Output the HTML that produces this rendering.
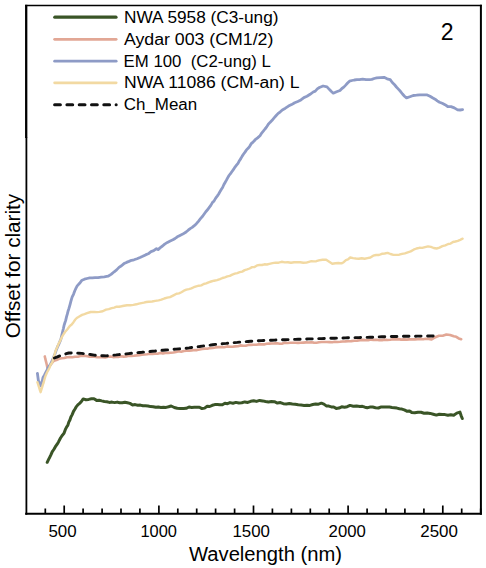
<!DOCTYPE html>
<html><head><meta charset="utf-8"><style>
html,body{margin:0;padding:0;background:#fff;}
svg{display:block;}
text{font-family:"Liberation Sans", sans-serif;fill:#000;}
</style></head><body>
<svg width="486" height="568" viewBox="0 0 486 568">
<rect width="486" height="568" fill="#fff"/>
<g fill="none" stroke-linejoin="round" stroke-linecap="round">
<path d="M47.2 462.3 L48.5 459.7 L49.8 457.1 L51.0 454.6 L52.3 451.6 L53.8 449.5 L55.4 446.7 L57.0 444.4 L58.5 441.9 L60.5 438.0 L62.6 434.9 L64.0 433.3 L65.3 429.7 L66.7 426.9 L67.8 425.4 L68.8 422.1 L69.9 420.0 L70.9 417.0 L72.2 414.6 L73.5 411.4 L74.7 409.5 L76.0 407.2 L77.8 404.9 L79.6 403.4 L81.4 401.5 L83.2 398.9 L85.9 399.7 L88.7 399.4 L91.4 398.8 L94.0 398.8 L96.6 400.4 L99.1 400.2 L101.7 400.9 L104.3 401.5 L106.8 401.7 L109.4 402.4 L112.0 402.1 L114.6 402.6 L117.2 402.1 L119.7 402.8 L122.3 402.7 L124.9 402.2 L127.4 402.7 L130.0 403.4 L132.6 405.0 L135.2 404.6 L137.7 405.2 L140.3 405.1 L142.9 405.7 L145.4 405.8 L148.0 406.0 L150.6 406.6 L153.2 406.7 L155.8 407.3 L158.3 407.1 L160.9 407.5 L163.5 407.3 L166.1 407.4 L168.6 406.8 L171.2 406.0 L174.3 407.5 L177.3 408.2 L180.4 408.6 L183.5 408.6 L186.2 408.3 L189.0 407.0 L191.7 407.4 L194.3 407.3 L196.8 407.2 L199.4 407.2 L202.0 408.6 L204.6 408.1 L207.2 406.2 L209.7 406.5 L212.3 405.3 L214.8 404.6 L217.4 404.5 L219.9 404.8 L222.4 404.7 L224.9 403.2 L227.5 403.7 L230.0 402.6 L233.0 403.2 L235.9 402.4 L238.9 403.0 L241.8 402.8 L244.8 401.9 L247.8 402.4 L250.7 401.3 L253.7 400.8 L256.6 401.4 L259.6 400.4 L262.6 400.9 L265.5 401.5 L268.5 402.0 L271.4 401.6 L274.4 401.7 L277.4 403.1 L280.4 402.6 L283.3 403.7 L286.3 403.9 L289.3 403.4 L292.3 403.9 L295.2 404.3 L298.2 404.8 L301.1 405.1 L304.1 405.4 L307.0 405.2 L309.9 405.4 L312.8 404.5 L315.6 404.1 L318.5 404.2 L321.4 403.2 L323.9 404.1 L326.3 405.9 L328.8 406.1 L331.3 406.9 L333.7 407.0 L336.2 408.4 L339.0 408.1 L341.7 406.8 L344.5 407.2 L347.2 406.7 L350.0 405.4 L353.3 406.2 L356.6 406.0 L359.9 406.4 L362.4 406.3 L364.9 407.2 L367.3 407.7 L369.8 407.1 L372.7 407.0 L375.5 407.7 L378.4 408.0 L381.3 406.9 L384.1 407.0 L387.0 407.0 L389.5 407.0 L392.0 407.4 L394.4 407.7 L396.9 408.1 L399.4 408.7 L401.9 409.1 L404.3 409.9 L406.8 411.2 L409.2 410.9 L411.7 412.4 L414.8 412.8 L417.9 412.3 L421.0 412.3 L424.1 413.2 L427.2 412.9 L430.2 413.4 L433.3 414.2 L436.4 415.1 L439.3 414.2 L442.2 414.6 L445.0 414.6 L447.9 415.3 L450.8 414.7 L453.7 415.3 L456.8 413.1 L459.9 412.1 L461.1 415.6 L462.3 418.5" stroke="#3A5527" stroke-width="3"/>
<path d="M44.8 356.4 L45.4 359.2 L46.1 361.9 L46.8 364.7 L47.4 367.8 L50.0 365.5 L52.0 363.0 L54.0 360.7 L56.5 360.0 L59.1 358.8 L61.6 358.2 L64.3 358.0 L67.0 357.2 L69.7 357.0 L72.4 357.2 L75.1 356.8 L77.8 356.7 L80.5 356.0 L83.2 355.6 L86.0 356.0 L88.8 356.6 L91.6 356.5 L94.4 356.8 L97.2 357.1 L100.0 357.3 L102.6 357.2 L105.2 357.5 L107.9 356.7 L110.5 356.5 L113.1 357.1 L115.7 356.9 L118.3 356.9 L120.9 356.3 L123.6 356.6 L126.2 356.5 L128.8 355.8 L131.4 356.0 L134.0 355.8 L136.7 355.4 L139.3 355.1 L141.9 354.7 L144.5 354.5 L147.1 354.2 L149.7 353.8 L152.4 354.0 L155.0 353.6 L157.6 353.7 L160.2 352.9 L162.9 353.4 L165.5 353.0 L168.1 352.9 L170.7 352.7 L173.4 352.5 L176.0 352.0 L178.6 351.3 L181.2 351.7 L183.9 351.0 L186.5 350.8 L189.1 350.8 L191.7 350.4 L194.4 350.0 L197.0 350.1 L199.6 349.5 L202.2 349.0 L204.8 348.6 L207.4 348.7 L210.1 348.1 L212.7 348.0 L215.3 347.4 L218.2 347.1 L221.2 347.1 L224.1 347.2 L227.1 346.4 L230.0 346.7 L232.6 346.7 L235.2 346.4 L237.9 346.2 L240.5 345.4 L243.1 345.7 L245.7 345.7 L248.3 344.9 L250.9 344.9 L253.6 344.7 L256.2 344.7 L258.8 344.4 L261.4 344.3 L264.0 344.4 L266.7 343.7 L269.3 343.6 L271.9 343.5 L274.5 343.4 L277.1 343.2 L279.7 343.8 L282.4 343.6 L285.0 342.8 L287.6 343.0 L290.2 342.8 L292.9 342.8 L295.5 342.7 L298.1 342.9 L300.7 342.8 L303.4 342.6 L306.0 342.4 L308.6 342.5 L311.2 342.3 L313.9 342.6 L316.5 342.7 L319.1 342.3 L321.7 342.0 L324.4 342.0 L327.0 342.0 L329.6 342.1 L332.2 342.2 L334.8 341.8 L337.4 342.0 L340.1 341.8 L342.7 341.5 L345.3 341.4 L348.2 341.2 L351.2 341.1 L354.1 340.7 L357.1 340.6 L360.0 340.2 L362.7 339.9 L365.5 340.1 L368.2 340.2 L371.0 339.6 L373.7 339.9 L376.5 339.8 L379.2 340.1 L382.0 340.1 L384.7 339.6 L387.4 340.0 L390.2 339.8 L392.9 339.3 L395.7 339.4 L398.4 339.1 L401.2 339.6 L403.9 339.4 L406.7 339.6 L409.4 339.4 L412.2 339.3 L414.9 339.4 L417.7 339.3 L420.5 338.9 L423.3 339.3 L426.1 338.8 L428.8 338.9 L431.6 339.4 L434.1 337.8 L436.5 336.7 L439.0 335.7 L442.7 335.7 L446.4 334.5 L450.1 335.0 L453.8 336.3 L456.3 336.8 L458.7 338.4 L461.2 339.2" stroke="#E2A795" stroke-width="2.6"/>
<path d="M37.4 373.3 L37.9 377.0 L38.4 380.8 L39.6 383.4 L40.8 385.9 L41.5 383.1 L42.3 380.7 L43.0 377.6 L44.3 375.5 L45.7 372.7 L47.0 370.2 L48.3 367.4 L49.6 365.7 L50.9 363.6 L52.2 360.6 L53.2 358.4 L54.1 356.1 L55.0 353.8 L56.0 350.8 L57.0 348.3 L58.0 345.9 L59.0 343.8 L60.0 341.4 L61.0 338.7 L61.6 336.1 L62.2 333.6 L62.8 331.0 L63.4 328.5 L64.0 325.7 L64.8 323.0 L65.7 320.4 L66.5 316.9 L67.3 314.2 L68.0 311.3 L68.7 309.2 L69.4 306.8 L70.1 304.3 L70.8 301.7 L71.5 299.2 L72.2 296.9 L73.5 294.3 L74.7 291.0 L76.0 288.2 L77.2 285.9 L79.6 283.3 L82.0 280.2 L84.5 279.2 L87.0 278.5 L89.7 277.9 L92.3 277.8 L95.0 277.6 L98.1 277.6 L101.2 277.1 L104.3 276.8 L108.0 276.2 L111.1 274.4 L114.2 271.8 L116.6 269.9 L119.0 267.4 L121.5 265.8 L124.0 263.6 L126.5 262.4 L129.0 261.4 L131.5 260.3 L134.0 259.8 L137.0 258.7 L140.0 257.5 L142.7 256.3 L145.5 254.9 L148.2 253.8 L151.0 251.6 L153.7 250.7 L156.5 248.6 L158.1 249.6 L160.3 247.6 L162.5 246.0 L164.7 244.1 L167.4 242.4 L170.2 241.0 L172.9 239.8 L175.1 238.5 L177.3 236.8 L179.5 235.7 L182.8 234.1 L186.1 232.0 L188.2 230.2 L190.2 228.6 L192.2 227.4 L194.3 225.7 L196.4 223.7 L198.4 221.3 L200.5 218.6 L202.6 216.3 L204.2 214.0 L205.8 211.7 L207.5 209.8 L209.1 207.7 L210.8 205.4 L212.4 202.6 L214.1 200.9 L215.7 198.1 L217.4 195.9 L218.7 194.0 L220.1 191.4 L221.4 189.3 L222.6 187.5 L223.8 184.8 L225.1 182.5 L226.3 180.4 L227.5 178.1 L229.0 175.5 L230.5 173.6 L232.0 171.5 L233.5 169.4 L235.0 167.1 L236.5 165.2 L238.0 163.4 L239.4 160.7 L240.8 158.6 L242.2 156.1 L243.6 154.0 L245.0 152.1 L246.6 149.7 L248.1 148.3 L249.7 146.3 L251.2 143.7 L252.8 142.4 L255.2 139.7 L257.6 137.9 L260.0 135.7 L261.7 133.1 L263.3 131.2 L265.0 129.0 L266.7 126.9 L268.3 124.2 L270.0 122.4 L272.1 120.3 L274.1 117.9 L276.2 115.5 L278.2 113.4 L280.3 111.8 L282.3 109.9 L285.4 108.2 L288.5 106.1 L291.6 104.6 L294.7 102.7 L297.8 101.5 L300.9 99.9 L303.9 97.6 L307.0 96.3 L310.1 94.3 L313.2 92.0 L315.3 91.1 L317.3 88.9 L319.4 87.5 L323.1 86.0 L327.0 86.9 L329.5 89.6 L331.4 91.5 L333.3 93.2 L336.6 91.8 L340.0 90.5 L341.9 88.5 L343.8 87.1 L345.7 85.1 L347.6 83.0 L349.5 81.2 L352.0 80.5 L354.4 80.0 L356.9 79.6 L359.4 79.6 L362.7 79.1 L366.0 79.6 L369.3 79.6 L371.8 79.4 L374.2 78.5 L376.7 77.9 L380.4 77.6 L384.0 77.3 L387.1 78.8 L390.2 79.7 L392.3 82.5 L394.3 84.4 L396.4 87.0 L398.4 89.1 L400.4 91.3 L402.5 94.0 L404.5 96.2 L406.5 97.9 L409.9 96.7 L413.2 95.5 L416.5 95.2 L419.8 94.8 L423.5 94.8 L427.2 94.9 L430.0 96.2 L432.9 98.0 L435.1 99.2 L437.3 100.9 L439.5 102.3 L442.2 103.3 L445.0 104.7 L447.7 106.5 L451.0 106.6 L454.3 107.9 L457.6 109.9 L460.1 110.0 L462.6 109.6" stroke="#8E9BC6" stroke-width="2.8"/>
<path d="M37.4 382.2 L38.2 384.7 L39.0 387.2 L39.8 389.8 L40.6 392.2 L41.3 389.9 L42.1 387.4 L42.8 384.9 L43.6 382.8 L44.3 380.0 L45.1 377.1 L45.8 375.2 L47.1 372.3 L48.4 369.9 L49.6 367.5 L50.9 364.2 L52.2 362.5 L53.0 359.9 L53.7 357.3 L54.5 354.9 L55.2 352.4 L56.0 349.7 L57.2 347.2 L58.5 343.9 L59.8 341.6 L61.0 338.9 L62.3 336.3 L63.7 334.0 L65.0 332.0 L67.4 329.3 L69.8 326.0 L71.7 324.5 L73.5 322.2 L75.3 319.5 L77.2 317.7 L79.7 316.3 L82.1 314.9 L84.5 314.1 L87.0 313.2 L90.7 312.0 L94.4 312.0 L96.9 312.1 L99.4 311.9 L102.7 311.3 L106.0 309.6 L108.8 309.1 L111.7 308.1 L114.2 307.6 L116.6 306.7 L119.1 306.7 L121.5 306.3 L124.0 305.8 L127.1 305.2 L130.2 305.3 L133.3 304.9 L136.4 304.3 L138.9 303.6 L141.4 303.1 L143.8 302.6 L146.3 302.0 L148.8 301.7 L152.1 301.5 L155.3 300.9 L158.6 300.4 L161.4 299.7 L164.3 298.5 L167.2 297.7 L170.0 297.1 L174.0 295.1 L176.5 293.8 L179.0 293.4 L181.4 292.2 L183.9 290.7 L186.4 289.7 L188.9 289.1 L191.4 288.4 L193.8 287.2 L196.3 286.3 L198.8 285.7 L201.3 285.4 L203.7 284.0 L206.2 283.4 L208.6 282.3 L211.1 281.5 L214.1 280.7 L217.0 280.1 L220.0 279.1 L222.5 278.0 L224.9 277.3 L227.4 276.4 L229.8 275.9 L232.3 274.6 L234.8 273.6 L237.3 273.1 L239.7 272.2 L242.2 271.6 L244.7 270.1 L247.2 269.4 L249.6 268.5 L252.1 267.1 L254.5 267.1 L257.0 265.4 L259.5 265.0 L262.0 265.0 L264.4 264.3 L266.9 264.5 L269.4 263.8 L272.5 263.1 L275.5 262.6 L278.6 262.7 L281.7 261.8 L284.8 262.4 L287.9 262.2 L291.0 262.8 L294.1 262.3 L297.2 262.2 L300.2 262.3 L303.3 262.8 L306.4 262.6 L308.9 261.9 L311.4 261.2 L313.8 261.4 L316.3 261.2 L318.8 260.4 L322.5 259.8 L326.2 259.8 L329.2 261.7 L332.3 263.7 L335.4 263.3 L338.4 263.0 L341.5 263.4 L343.7 262.2 L345.9 260.1 L348.0 259.4 L350.2 257.5 L353.1 258.1 L356.0 258.5 L358.8 258.8 L361.7 258.2 L364.6 258.7 L367.5 258.1 L370.4 257.5 L373.2 255.7 L376.1 255.0 L379.0 255.0 L381.9 253.8 L384.7 253.5 L387.6 252.9 L390.5 254.0 L393.4 254.9 L396.3 254.9 L399.2 254.7 L402.1 253.9 L404.9 253.3 L407.8 252.3 L410.7 251.4 L413.6 249.7 L416.5 248.5 L419.4 247.8 L422.2 247.9 L425.1 247.1 L428.0 246.4 L430.9 246.9 L433.7 248.0 L436.6 248.5 L439.5 247.6 L442.4 246.2 L445.3 245.3 L448.2 244.0 L450.6 243.6 L453.0 242.0 L455.4 241.5 L457.8 240.8 L460.2 239.8 L462.6 238.7" stroke="#F2D9A2" stroke-width="2.4"/>
<path d="M54.4 358.0 L56.8 357.1 L59.2 356.1 L61.6 355.2 L64.0 354.5 L66.4 353.7 L68.8 353.0 L72.4 353.0 L76.0 353.0 L78.9 353.2 L81.8 353.4 L84.7 353.8 L87.5 354.1 L90.4 354.5 L94.0 355.1 L97.6 355.6 L100.5 355.7 L103.4 355.8 L106.3 355.9 L108.8 355.6 L111.3 355.4 L113.8 355.1 L116.3 354.9 L118.8 354.6 L121.3 354.4 L123.8 354.1 L126.3 353.9 L128.8 353.6 L131.4 353.3 L134.0 353.1 L136.7 352.8 L139.3 352.5 L141.9 352.3 L144.5 352.0 L147.1 351.8 L149.7 351.5 L152.4 351.2 L155.0 351.0 L157.6 350.7 L160.2 350.5 L162.9 350.2 L165.5 350.0 L168.1 349.8 L170.7 349.6 L173.4 349.3 L176.0 349.1 L178.6 348.9 L181.2 348.7 L183.9 348.4 L186.5 348.2 L189.1 347.9 L191.7 347.5 L194.4 347.2 L197.0 346.8 L199.6 346.5 L202.2 346.1 L204.8 345.8 L207.4 345.4 L210.1 345.1 L212.7 344.7 L215.3 344.4 L218.0 344.1 L220.8 343.9 L223.5 343.6 L226.3 343.4 L229.0 343.1 L231.8 342.9 L234.5 342.6 L237.3 342.4 L240.0 342.1 L242.7 341.9 L245.4 341.7 L248.1 341.5 L250.7 341.3 L253.4 341.1 L256.1 340.9 L258.8 340.7 L261.4 340.6 L264.0 340.5 L266.7 340.4 L269.3 340.3 L271.9 340.2 L274.5 340.1 L277.1 340.0 L279.7 339.9 L282.4 339.8 L285.0 339.7 L287.6 339.6 L290.2 339.5 L292.9 339.4 L295.5 339.4 L298.1 339.3 L300.7 339.2 L303.4 339.1 L306.0 339.0 L308.6 338.9 L311.2 338.9 L313.9 338.8 L316.5 338.7 L319.1 338.6 L321.7 338.6 L324.4 338.5 L327.0 338.4 L329.6 338.3 L332.2 338.3 L334.8 338.2 L337.4 338.1 L340.1 338.0 L342.7 338.0 L345.3 337.9 L348.0 337.8 L350.8 337.8 L353.5 337.7 L356.3 337.6 L359.0 337.6 L361.8 337.5 L364.5 337.4 L367.3 337.4 L370.0 337.3 L372.9 337.2 L375.9 337.1 L378.8 336.9 L381.8 336.8 L384.7 336.7 L387.4 336.6 L390.2 336.6 L392.9 336.5 L395.7 336.5 L398.4 336.4 L401.2 336.4 L403.9 336.3 L406.7 336.3 L409.4 336.2 L412.1 336.2 L414.9 336.2 L417.6 336.1 L420.3 336.1 L423.1 336.1 L425.8 336.1 L428.5 336.0 L431.3 336.0 L434.0 336.0" stroke="#111" stroke-width="2.9" stroke-dasharray="5.6 6.5" stroke-linecap="round"/>
</g>
<g stroke="#000" fill="none">
<line x1="26.2" y1="4.8" x2="26.2" y2="138" stroke-width="2.3"/>
<line x1="26.4" y1="137.5" x2="26.4" y2="514.7" stroke-width="1.8"/>
<line x1="25.2" y1="513.7" x2="481.8" y2="513.7" stroke-width="2"/>
<line x1="25.2" y1="5.5" x2="481.8" y2="5.5" stroke-width="1.5"/>
<line x1="480.9" y1="4.8" x2="480.9" y2="514.7" stroke-width="2"/>
</g>
<g stroke="#000" stroke-width="1.7">
<line x1="45.3" y1="508.5" x2="45.3" y2="513" /><line x1="64.2" y1="505.5" x2="64.2" y2="513" /><line x1="83.1" y1="508.5" x2="83.1" y2="513" /><line x1="102.1" y1="508.5" x2="102.1" y2="513" /><line x1="121.0" y1="508.5" x2="121.0" y2="513" /><line x1="139.9" y1="508.5" x2="139.9" y2="513" /><line x1="158.9" y1="505.5" x2="158.9" y2="513" /><line x1="177.8" y1="508.5" x2="177.8" y2="513" /><line x1="196.7" y1="508.5" x2="196.7" y2="513" /><line x1="215.6" y1="508.5" x2="215.6" y2="513" /><line x1="234.6" y1="508.5" x2="234.6" y2="513" /><line x1="253.5" y1="505.5" x2="253.5" y2="513" /><line x1="272.4" y1="508.5" x2="272.4" y2="513" /><line x1="291.4" y1="508.5" x2="291.4" y2="513" /><line x1="310.3" y1="508.5" x2="310.3" y2="513" /><line x1="329.2" y1="508.5" x2="329.2" y2="513" /><line x1="348.1" y1="505.5" x2="348.1" y2="513" /><line x1="367.1" y1="508.5" x2="367.1" y2="513" /><line x1="386.0" y1="508.5" x2="386.0" y2="513" /><line x1="404.9" y1="508.5" x2="404.9" y2="513" /><line x1="423.9" y1="508.5" x2="423.9" y2="513" /><line x1="442.8" y1="505.5" x2="442.8" y2="513" /><line x1="461.7" y1="508.5" x2="461.7" y2="513" /><line x1="480.7" y1="508.5" x2="480.7" y2="513" />
</g>
<g font-size="16.5">
<text x="48.4" y="536.5" textLength="28.2" lengthAdjust="spacingAndGlyphs">500</text><text x="140.4" y="536.5" textLength="36.5" lengthAdjust="spacingAndGlyphs">1000</text><text x="232.5" y="536.5" textLength="37.5" lengthAdjust="spacingAndGlyphs">1500</text><text x="328.6" y="536.5" textLength="37.2" lengthAdjust="spacingAndGlyphs">2000</text><text x="420.3" y="536.5" textLength="37.6" lengthAdjust="spacingAndGlyphs">2500</text>
</g>
<text x="189" y="560.7" font-size="20" textLength="153" lengthAdjust="spacingAndGlyphs">Wavelength (nm)</text>
<text transform="translate(19.5,338.3) rotate(-90)" font-size="19.5" textLength="144.5" lengthAdjust="spacingAndGlyphs">Offset for clarity</text>
<text x="440.7" y="40" font-size="23">2</text>
<g fill="none" stroke-width="3" stroke-linecap="round">
<line x1="54.8" y1="17.2" x2="116" y2="17.2" stroke="#3A5527" stroke-width="3.2"/>
<line x1="54.6" y1="39.3" x2="116.2" y2="39.3" stroke="#E2A795" stroke-width="2.7"/>
<line x1="54.6" y1="61.2" x2="116.2" y2="61.2" stroke="#8E9BC6" stroke-width="2.7"/>
<line x1="54.6" y1="82.8" x2="116.2" y2="82.8" stroke="#F2D9A2" stroke-width="2.7"/>
<line x1="54.6" y1="104.7" x2="116.2" y2="104.7" stroke="#111" stroke-width="3" stroke-dasharray="5.8 6.5"/>
</g>
<g font-size="16">
<text x="124" y="22.5" textLength="154.5" lengthAdjust="spacingAndGlyphs">NWA 5958 (C3-ung)</text>
<text x="124" y="44.5" textLength="149.3" lengthAdjust="spacingAndGlyphs">Aydar 003 (CM1/2)</text>
<text x="123.6" y="66.5" textLength="147.3" lengthAdjust="spacingAndGlyphs" xml:space="preserve">EM 100  (C2-ung) L</text>
<text x="124" y="88.1" textLength="175.5" lengthAdjust="spacingAndGlyphs">NWA 11086 (CM-an) L</text>
<text x="123.7" y="110" textLength="73.5" lengthAdjust="spacingAndGlyphs">Ch_Mean</text>
</g>
</svg>
</body></html>
